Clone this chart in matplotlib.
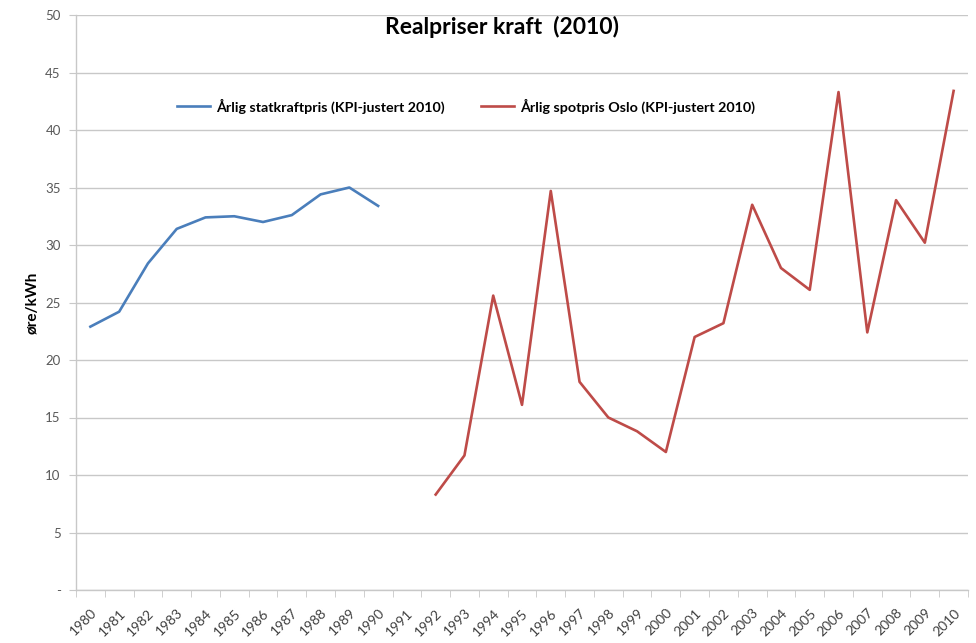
import numpy as np
import matplotlib
matplotlib.use("Agg")
from matplotlib import pyplot as plt

plt.rcParams['font.family'] = ['Lato', 'DejaVu Sans']

years = list(range(1980, 2011))
stat_years = list(range(1980, 1991))
stat_price = [22.9, 24.2, 28.4, 31.4, 32.4, 32.5, 32.0, 32.6, 34.4, 35.0, 33.4]
spot_years = list(range(1992, 2011))
spot_price = [8.3, 11.7, 25.6, 16.1, 34.7, 18.1, 15.0, 13.8, 12.0, 22.0,
              23.2, 33.5, 28.0, 26.1, 43.3, 22.4, 33.9, 30.2, 43.4]
yticks = [0, 5, 10, 15, 20, 25, 30, 35, 40, 45, 50]
ytick_labels = ['-'] + [str(v) for v in yticks[1:]]

blue = '#4A7EBB'
red = '#BE4B48'
grid_col = '#C8C8C8'
text_col = '#595959'

fig = plt.figure(figsize=(9.76, 6.43), dpi=100)
ax = fig.add_axes([76 / 976, 1 - 590 / 643, (968 - 76) / 976, (590 - 15) / 643])

# category positions (0 = 1980)
xs = lambda yrs: [y - years[0] for y in yrs]
ax.plot(xs(stat_years), stat_price, color=blue, lw=1.9,
        label='Årlig statkraftpris (KPI-justert 2010)', solid_joinstyle='round')
ax.plot(xs(spot_years), spot_price, color=red, lw=1.9,
        label='Årlig spotpris Oslo (KPI-justert 2010)', solid_joinstyle='round')

ax.set_xlim(-0.5, len(years) - 0.5)
ax.set_ylim(0, 50)

ax.set_yticks(yticks)
ax.set_yticklabels(ytick_labels, color=text_col, fontsize=9.5)
ax.yaxis.grid(True, color=grid_col, lw=1.0)
ax.set_axisbelow(True)

# tick marks between categories, labels at centers
ax.set_xticks(np.arange(-0.5, len(years)), minor=True)
ax.set_xticks(np.arange(len(years)))
ax.set_xticklabels([str(y) for y in years], rotation=45, ha='right', va='top',
                   rotation_mode='anchor', fontsize=10, color='#404040')
ax.tick_params(axis='x', which='major', length=0, pad=12)
ax.tick_params(axis='x', which='minor', length=5, color=grid_col, direction='out')
ax.tick_params(axis='y', length=5, color=grid_col, pad=6)

for s in ['top', 'right']:
    ax.spines[s].set_visible(False)
for s in ['left', 'bottom']:
    ax.spines[s].set_color(grid_col)
    ax.spines[s].set_linewidth(1.0)

ax.set_ylabel('øre/kWh', fontsize=11, fontweight='bold', labelpad=4)

fig.text(502 / 976, 1 - 27 / 643, 'Realpriser kraft  (2010)', ha='center', va='center',
         fontsize=16.5, fontweight='bold')

leg = ax.legend(loc='center', bbox_to_anchor=((466 - 76) / 892, (590 - 106) / 575),
                ncol=2, frameon=False, prop={'size': 10.3, 'weight': 'bold'},
                handlelength=2.3, columnspacing=2.6, handletextpad=0.4)

fig.savefig('out.png', dpi=100)
